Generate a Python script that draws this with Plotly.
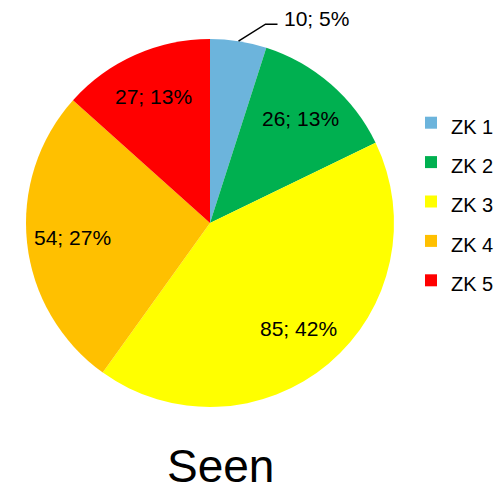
import math
import plotly.graph_objects as go

# Counts per zone
labels = ["ZK 1", "ZK 2", "ZK 3", "ZK 4", "ZK 5"]
values = [10, 26, 85, 54, 27]
colors = ["#6CB4DC", "#00B050", "#FFFF00", "#FFC000", "#FF0000"]
title_text = "Seen"

W, H = 504, 492
FONT = "Liberation Sans, Arial, sans-serif"

# Pie geometry in pixels
CX, CY, R = 210, 223, 184
LABEL_R = 0.75          # radial position of inside labels (fraction of radius)
OUTSIDE_MIN = 0.08      # slices smaller than this share get an outside label


def px_to_paper(x, y):
    return x / W, 1 - y / H


total = sum(values)
slice_text = [f"{v}; {round(100 * v / total)}%" for v in values]

fig = go.Figure(
    go.Pie(
        labels=[f"<span style='font-size:20px'>{l}</span>" for l in labels],
        values=values,
        textinfo="none",
        marker=dict(colors=colors, line=dict(width=0)),
        sort=False,
        direction="clockwise",
        rotation=0,
        domain=dict(x=[(CX - R) / W, (CX + R) / W],
                    y=[1 - (CY + R) / H, 1 - (CY - R) / H]),
        hoverinfo="label+value+percent",
    )
)

annotations = []
shapes = []
cum = 0
for v, txt in zip(values, slice_text):
    mid = 2 * math.pi * (cum + v / 2) / total
    cum += v
    if v / total >= OUTSIDE_MIN:
        lx = CX + LABEL_R * R * math.sin(mid)
        ly = CY - LABEL_R * R * math.cos(mid)
        px, py = px_to_paper(lx, ly)
        annotations.append(dict(
            text=txt, x=px, y=py, xref="paper", yref="paper",
            xanchor="center", yanchor="middle", showarrow=False,
            font=dict(size=21, family=FONT, color="black"),
        ))
    else:
        # leader line from the slice edge, then a short horizontal run
        ax = CX + R * math.sin(mid)
        ay = CY - R * math.cos(mid)
        ex, ey = ax + 27, ay - 17
        fx, fy = ex + 12, ey
        p0, p1, p2 = px_to_paper(ax, ay), px_to_paper(ex, ey), px_to_paper(fx, fy)
        shapes.append(dict(
            type="path", xref="paper", yref="paper",
            path=f"M{p0[0]},{p0[1]} L{p1[0]},{p1[1]} L{p2[0]},{p2[1]}",
            line=dict(color="black", width=1.5),
        ))
        tx, ty = px_to_paper(fx + 4, fy - 6)
        annotations.append(dict(
            text=txt, x=tx, y=ty, xref="paper", yref="paper",
            xanchor="left", yanchor="middle", showarrow=False,
            font=dict(size=21, family=FONT, color="black"),
        ))

title_x, title_y = px_to_paper(220, 466)
annotations.append(dict(
    text=title_text, x=title_x, y=title_y, xref="paper", yref="paper",
    xanchor="center", yanchor="middle", showarrow=False,
    font=dict(size=46, family=FONT, color="black"),
))

fig.update_layout(
    width=W,
    height=H,
    margin=dict(l=0, r=0, t=0, b=0),
    paper_bgcolor="white",
    plot_bgcolor="white",
    font=dict(family=FONT, color="black"),
    legend=dict(
        x=411 / W,
        y=1 - 98 / H,
        xanchor="left",
        yanchor="top",
        font=dict(size=28, family=FONT),
        bgcolor="rgba(0,0,0,0)",
        itemclick=False,
    ),
    annotations=annotations,
    shapes=shapes,
)

fig.write_html("out.html")
